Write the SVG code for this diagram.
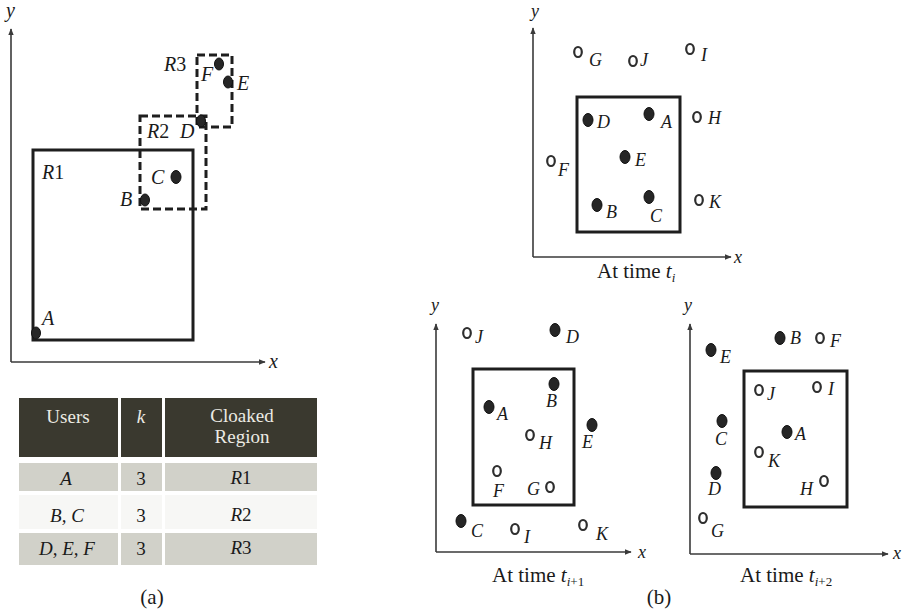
<svg xmlns="http://www.w3.org/2000/svg" width="902" height="613" viewBox="0 0 902 613">
<style>
.ax{stroke:#3a3a3a;stroke-width:1.6;fill:none}
.box{fill:none;stroke:#1e1e1e;stroke-width:3}
.dash{fill:none;stroke:#1e1e1e;stroke-width:3;stroke-dasharray:8 4}
.fd{fill:#262626;stroke:#111;stroke-width:1}
.od{fill:#fff;stroke:#2e2e2e;stroke-width:2.2}
.lb{font-family:"Liberation Serif",serif;font-style:italic;font-size:18px;fill:#1a1a1a}
.la{font-family:"Liberation Serif",serif;font-style:italic;font-size:20px;fill:#1a1a1a}
.up{font-style:normal}
.cap{font-family:"Liberation Serif",serif;font-size:21px;fill:#1a1a1a}
.sub{font-style:italic;font-size:13px}
.th{font-family:"Liberation Serif",serif;font-size:19px;fill:#ecebe4;text-anchor:middle}
.td{font-family:"Liberation Serif",serif;font-size:19px;fill:#1a1a1a;text-anchor:middle}
.hd{fill:#3a392f}
.rw{fill:#d1d1c9}
.rw2{fill:#f7f7f5}
</style>
<defs>
<marker id="ah" viewBox="0 0 10 10" refX="9" refY="5" markerWidth="7" markerHeight="7" orient="auto" markerUnits="userSpaceOnUse">
<path d="M0,1 L10,5 L0,9 Z" fill="#3a3a3a"/>
</marker>
</defs>

<!-- connectors: axes -->
<g id="connectors">
<path class="ax" d="M11,362 L11,29" marker-end="url(#ah)"/>
<path class="ax" d="M11,362 L265,362" marker-end="url(#ah)"/>
<path class="ax" d="M533,257 L533,28" marker-end="url(#ah)"/>
<path class="ax" d="M533,257 L731,257" marker-end="url(#ah)"/>
<path class="ax" d="M436,552 L436,324" marker-end="url(#ah)"/>
<path class="ax" d="M436,552 L631,552" marker-end="url(#ah)"/>
<path class="ax" d="M690,554 L690,324" marker-end="url(#ah)"/>
<path class="ax" d="M690,554 L888,554" marker-end="url(#ah)"/>
</g>

<!-- Panel (a) -->
<g id="panel-a">
<text class="la" x="6" y="17">y</text>
<text class="la" x="269" y="368">x</text>
<g id="R1"><rect class="box" x="33" y="150" width="160" height="190"/><text class="la" x="42" y="179">R<tspan class="up">1</tspan></text></g>
<g id="R2"><rect class="dash" x="140" y="116" width="66" height="93"/><text class="la" x="147" y="138">R<tspan class="up">2</tspan></text></g>
<g id="R3"><rect class="dash" x="197" y="55" width="35" height="72"/><text class="la" x="164" y="71">R<tspan class="up">3</tspan></text></g>
<g id="a-A"><ellipse class="fd" cx="36" cy="333" rx="4.5" ry="6"/><text class="la" x="42" y="325">A</text></g>
<g id="a-B"><ellipse class="fd" cx="145" cy="200" rx="4.5" ry="6"/><text class="la" x="120" y="206">B</text></g>
<g id="a-C"><ellipse class="fd" cx="176" cy="177" rx="5" ry="6.5"/><text class="la" x="151" y="184">C</text></g>
<g id="a-D"><ellipse class="fd" cx="201" cy="121" rx="4.5" ry="6"/><text class="la" x="180" y="138">D</text></g>
<g id="a-E"><ellipse class="fd" cx="228" cy="82" rx="4.5" ry="6"/><text class="la" x="237" y="90">E</text></g>
<g id="a-F"><ellipse class="fd" cx="219" cy="64" rx="4.5" ry="6"/><text class="la" x="201" y="81">F</text></g>
</g>

<!-- Table -->
<g id="table">
<rect class="hd" x="19" y="398" width="99" height="59"/>
<rect class="hd" x="121" y="398" width="41" height="59"/>
<rect class="hd" x="165" y="398" width="152" height="59"/>
<rect class="rw" x="19" y="463" width="99" height="28"/>
<rect class="rw" x="121" y="463" width="41" height="28"/>
<rect class="rw" x="165" y="463" width="152" height="28"/>
<rect class="rw2" x="19" y="495" width="99" height="34"/>
<rect class="rw2" x="121" y="495" width="41" height="34"/>
<rect class="rw2" x="165" y="495" width="152" height="34"/>
<rect class="rw" x="19" y="533" width="99" height="32"/>
<rect class="rw" x="121" y="533" width="41" height="32"/>
<rect class="rw" x="165" y="533" width="152" height="32"/>
<text class="th" x="68" y="423">Users</text>
<text class="th" x="141" y="423" font-style="italic">k</text>
<text class="th" x="242" y="422">Cloaked</text>
<text class="th" x="242" y="443">Region</text>
<text class="td" x="66" y="485" font-style="italic">A</text>
<text class="td" x="141" y="485">3</text>
<text class="td" x="241" y="484"><tspan font-style="italic">R</tspan>1</text>
<text class="td" x="67" y="522" font-style="italic">B, C</text>
<text class="td" x="141" y="522">3</text>
<text class="td" x="241" y="521"><tspan font-style="italic">R</tspan>2</text>
<text class="td" x="67" y="555" font-style="italic">D, E, F</text>
<text class="td" x="141" y="555">3</text>
<text class="td" x="241" y="554"><tspan font-style="italic">R</tspan>3</text>
</g>
<text class="cap" x="152" y="604" text-anchor="middle">(a)</text>

<!-- Panel (b) top: time t_i -->
<g id="panel-ti">
<text class="lb" x="531" y="17">y</text>
<text class="lb" x="734" y="263">x</text>
<g id="ti-region"><rect class="box" x="577" y="97" width="103" height="135"/></g>
<g id="ti-G"><ellipse class="od" cx="578" cy="52" rx="3.8" ry="5"/><text class="lb" x="589" y="66">G</text></g>
<g id="ti-J"><ellipse class="od" cx="633" cy="61" rx="3.8" ry="5"/><text class="lb" x="640" y="66">J</text></g>
<g id="ti-I"><ellipse class="od" cx="690" cy="49" rx="3.8" ry="5"/><text class="lb" x="701" y="61">I</text></g>
<g id="ti-H"><ellipse class="od" cx="697" cy="117" rx="3.8" ry="5"/><text class="lb" x="708" y="124">H</text></g>
<g id="ti-F"><ellipse class="od" cx="551" cy="161" rx="3.8" ry="5"/><text class="lb" x="558" y="176">F</text></g>
<g id="ti-K"><ellipse class="od" cx="699" cy="200" rx="3.8" ry="5"/><text class="lb" x="709" y="208">K</text></g>
<g id="ti-D"><ellipse class="fd" cx="588" cy="120" rx="5" ry="6.5"/><text class="lb" x="597" y="128">D</text></g>
<g id="ti-A"><ellipse class="fd" cx="649" cy="114" rx="5" ry="6.5"/><text class="lb" x="661" y="128">A</text></g>
<g id="ti-E"><ellipse class="fd" cx="625" cy="157" rx="5" ry="6.5"/><text class="lb" x="635" y="166">E</text></g>
<g id="ti-B"><ellipse class="fd" cx="597" cy="205" rx="5" ry="6.5"/><text class="lb" x="606" y="218">B</text></g>
<g id="ti-C"><ellipse class="fd" cx="649" cy="197" rx="5" ry="6.5"/><text class="lb" x="650" y="222">C</text></g>
<text class="cap" x="597" y="278">At time <tspan font-style="italic">t</tspan><tspan class="sub" dy="4">i</tspan></text>
</g>

<!-- Panel (b) bottom-left: time t_{i+1} -->
<g id="panel-ti1">
<text class="lb" x="431" y="311">y</text>
<text class="lb" x="638" y="558">x</text>
<g id="ti1-region"><rect class="box" x="473" y="369" width="101" height="136"/></g>
<g id="ti1-J"><ellipse class="od" cx="467" cy="333" rx="3.8" ry="5"/><text class="lb" x="475" y="343">J</text></g>
<g id="ti1-D"><ellipse class="fd" cx="555" cy="330" rx="5" ry="6.5"/><text class="lb" x="566" y="343">D</text></g>
<g id="ti1-B"><ellipse class="fd" cx="554" cy="384" rx="5" ry="6.5"/><text class="lb" x="546" y="407">B</text></g>
<g id="ti1-A"><ellipse class="fd" cx="489" cy="407" rx="5" ry="6.5"/><text class="lb" x="497" y="420">A</text></g>
<g id="ti1-E"><ellipse class="fd" cx="592" cy="425" rx="5" ry="6.5"/><text class="lb" x="582" y="448">E</text></g>
<g id="ti1-H"><ellipse class="od" cx="530" cy="435" rx="3.8" ry="5"/><text class="lb" x="539" y="449">H</text></g>
<g id="ti1-F"><ellipse class="od" cx="497" cy="471" rx="3.8" ry="5"/><text class="lb" x="493" y="497">F</text></g>
<g id="ti1-G"><ellipse class="od" cx="550" cy="487" rx="3.8" ry="5"/><text class="lb" x="527" y="495">G</text></g>
<g id="ti1-C"><ellipse class="fd" cx="461" cy="521" rx="5" ry="6.5"/><text class="lb" x="471" y="537">C</text></g>
<g id="ti1-I"><ellipse class="od" cx="515" cy="529" rx="3.8" ry="5"/><text class="lb" x="524" y="543">I</text></g>
<g id="ti1-K"><ellipse class="od" cx="583" cy="525" rx="3.8" ry="5"/><text class="lb" x="596" y="540">K</text></g>
<text class="cap" x="492" y="582">At time <tspan font-style="italic">t</tspan><tspan class="sub" dy="4"><tspan font-style="italic">i</tspan><tspan font-style="normal">+1</tspan></tspan></text>
</g>

<!-- Panel (b) bottom-right: time t_{i+2} -->
<g id="panel-ti2">
<text class="lb" x="684" y="311">y</text>
<text class="lb" x="893" y="559">x</text>
<g id="ti2-region"><rect class="box" x="744" y="371" width="103" height="136"/></g>
<g id="ti2-E"><ellipse class="fd" cx="711" cy="350" rx="5" ry="6.5"/><text class="lb" x="720" y="363">E</text></g>
<g id="ti2-B"><ellipse class="fd" cx="780" cy="338" rx="5" ry="6.5"/><text class="lb" x="790" y="344">B</text></g>
<g id="ti2-F"><ellipse class="od" cx="820" cy="338" rx="3.8" ry="5"/><text class="lb" x="830" y="347">F</text></g>
<g id="ti2-J"><ellipse class="od" cx="759" cy="390" rx="3.8" ry="5"/><text class="lb" x="767" y="400">J</text></g>
<g id="ti2-I"><ellipse class="od" cx="817" cy="387" rx="3.8" ry="5"/><text class="lb" x="828" y="395">I</text></g>
<g id="ti2-C"><ellipse class="fd" cx="722" cy="421" rx="5" ry="6.5"/><text class="lb" x="715" y="445">C</text></g>
<g id="ti2-A"><ellipse class="fd" cx="787" cy="432" rx="5" ry="6.5"/><text class="lb" x="795" y="440">A</text></g>
<g id="ti2-K"><ellipse class="od" cx="759" cy="452" rx="3.8" ry="5"/><text class="lb" x="768" y="467">K</text></g>
<g id="ti2-D"><ellipse class="fd" cx="716" cy="473" rx="5" ry="6.5"/><text class="lb" x="708" y="495">D</text></g>
<g id="ti2-H"><ellipse class="od" cx="824" cy="481" rx="3.8" ry="5"/><text class="lb" x="800" y="495">H</text></g>
<g id="ti2-G"><ellipse class="od" cx="703" cy="518" rx="3.8" ry="5"/><text class="lb" x="711" y="537">G</text></g>
<text class="cap" x="740" y="582">At time <tspan font-style="italic">t</tspan><tspan class="sub" dy="4"><tspan font-style="italic">i</tspan><tspan font-style="normal">+2</tspan></tspan></text>
</g>
<text class="cap" x="659" y="604" text-anchor="middle">(b)</text>
</svg>
